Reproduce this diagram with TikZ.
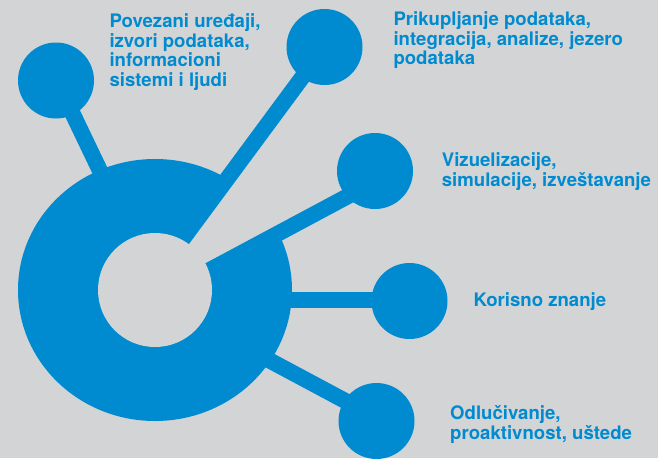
\documentclass[tikz,border=0pt]{standalone}
\usepackage{fontspec}
\setmainfont{TeX Gyre Heros}
\definecolor{ringblue}{HTML}{008BD0}
\definecolor{bggray}{HTML}{D3D4D6}
\tikzset{
  knob/.style={circle, fill=ringblue, minimum size=76pt, inner sep=0pt},
  spoke/.style={ringblue, line width=16pt},
  % a text block sits on the baseline of its last line
  txt/.style={anchor=base west, align=left, inner sep=0pt, text=ringblue,
    font=\bfseries\fontsize{18.6}{19.5}\selectfont}
}

\begin{document}
\begin{tikzpicture}[x=1pt, y=-1pt]
		%%%%% START %%%%%
		\useasboundingbox (0, 0) rectangle (658, 458);
		\fill[bggray] (0, 0) rectangle (658, 458);
		
		% ring and the open wedge of the C
		\coordinate (hub) at (155, 290);
		\fill[ringblue] (hub) ellipse [x radius=137pt, y radius=131pt];
		\fill[bggray] (126.8, 314.4) -- (390.8, 173.4) -- (305.9, 73.8) -- cycle;
		
		% end points of the spokes
		\coordinate (a1) at (57, 81);    \coordinate (b1) at (114, 200);
		\coordinate (a2) at (318, 56);   \coordinate (b2) at (145, 290);
		\coordinate (a3) at (365, 187);  \coordinate (b3) at (171.5, 290.5);
		\coordinate (a4) at (410, 300);  \coordinate (b4) at (270, 300);
		\coordinate (a5) at (366, 412);  \coordinate (b5) at (250, 350);
		
		\draw[spoke] (a1) -- (b1);
		\draw[spoke] (a2) -- (b2);
		\draw[spoke] (a3) -- (b3);
		\draw[spoke] (a4) -- (b4);
		\draw[spoke] (a5) -- (b5);
		
		\node[knob] (izvori) at (56, 80.5) {};
		\node[knob] (prikup) at (324.5, 47) {};
		\node[knob] (vizuel) at (375, 171) {};
		\node[knob] (znanje) at (409.5, 301) {};
		\node[knob] (odluka) at (376.5, 421) {};
		
		% hole of the ring
		\fill[bggray] (hub) circle (57pt);
		
		\node[txt] (t1) at (109.3, 86.2) {Povezani uređaji,\\izvori podataka,\\informacioni\\sistemi i ljudi};
		\node[txt] (t2) at (393.3, 64.5) {Prikupljanje podataka,\\integracija, analize, jezero\\podataka};
		\node[txt] (t3) at (441.7, 186) {Vizuelizacije,\\simulacije, izveštavanje};
		\node[txt] (t4) at (473.3, 306.7) {Korisno znanje};
		\node[txt] (t5) at (450, 439) {Odlučivanje,\\proaktivnost, uštede};
		%%%%% END %%%%%
\end{tikzpicture}
\end{document}
